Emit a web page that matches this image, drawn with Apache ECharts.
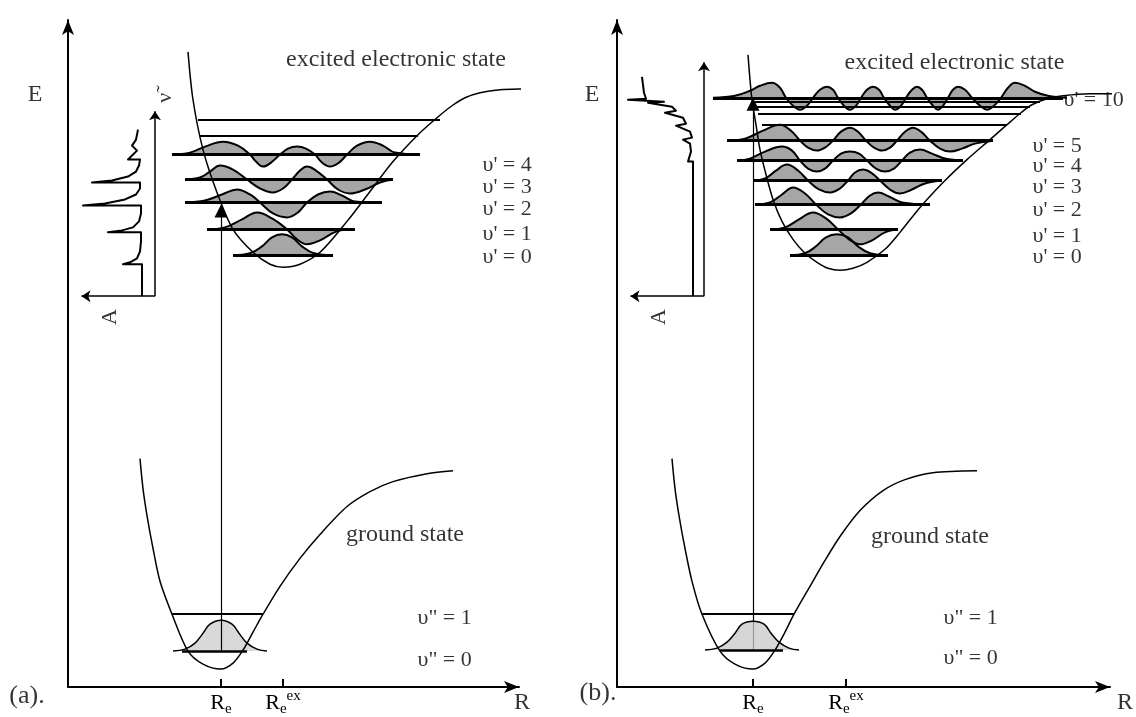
<!DOCTYPE html>
<html>
<head>
<meta charset="utf-8">
<title>Franck-Condon</title>
<script src="https://cdn.jsdelivr.net/npm/echarts@6/dist/echarts.min.js"></script>
<style>
html, body {margin: 0; padding: 0; background: #fff;}
#chart {width: 1136px; height: 717px;}
</style>
</head>
<body>
<div id="chart"></div>
<script>
var FONT = 'Liberation Serif';

/* ---------- panel (a) : R and E in arbitrary units ---------- */
var aRe = 15.3;
var aReEx = 21.5;
var aGroundCurve = [[7.2,22.9],[7.5,19.9],[7.9,17.2],[8.5,13.9],[9.2,10.6],[10.4,7.3],[12.0,3.6],[13.5,2.3],[15.3,1.8],[16.5,2.4],[17.5,3.7],[18.5,5.5],[19.5,7.3],[21.2,10.1],[23.2,12.9],[25.2,15.3],[27.9,18.1],[30.2,19.6],[32.5,20.6],[35.9,21.4],[38.5,21.7]];
var aExcitedCurve = [[12.0,63.7],[12.5,58.9],[13.5,53.9],[14.9,49.6],[16.5,45.9],[18.5,43.6],[20.2,42.4],[21.5,42.1],[23.2,42.4],[25.2,43.6],[27.9,46.7],[30.2,49.7],[32.5,52.7],[35.0,55.4],[36.9,57.1],[38.4,58.3],[39.7,59.1],[41.2,59.6],[43.2,59.9],[45.9,60.0],[48.5,60.1]];
/* [R start, R end, E] */
var aGroundLevels = [[11.4,17.9,3.6],[10.4,19.5,7.3]];
var aExcitedLevels = [[16.5,26.5,43.3],[13.9,28.7,45.9],[11.7,31.4,48.6],[11.7,32.5,50.9],[10.4,35.2,53.4]];
var aUpperLevels = [[13.2,35.0,55.3],[13.0,37.2,56.9]];
var aGroundWave = [[10.5,3.6],[11.7,3.8],[12.7,4.4],[13.5,5.4],[14.2,6.3],[15.3,6.7],[16.4,6.3],[17.1,5.4],[17.9,4.4],[18.9,3.8],[19.9,3.6]];
var aWave0 = [[16.5,43.3],[18.2,43.5],[19.4,44.2],[20.4,45.1],[21.4,45.4],[22.4,45.1],[23.4,44.2],[24.6,43.5],[26.5,43.3]];
var aWave1 = [[13.9,45.9],[15.7,46.1],[17.4,46.9],[18.9,47.6],[20.4,47.0],[21.9,45.9],[22.9,44.9],[23.9,44.4],[25.2,44.8],[26.9,45.7],[28.7,45.9]];
var aWave2 = [[11.7,48.6],[13.7,48.8],[15.4,49.4],[16.9,49.9],[18.2,49.4],[19.2,48.6],[20.5,47.5],[21.9,47.1],[23.0,47.6],[23.9,48.6],[25.0,49.4],[26.2,49.7],[27.4,49.3],[28.7,48.7],[31.4,48.6]];
var aWave3 = [[11.7,50.9],[13.2,51.1],[14.2,51.7],[15.2,52.3],[16.5,51.9],[17.9,50.9],[19.2,50.0],[20.5,49.6],[21.5,50.0],[22.4,50.9],[23.2,51.8],[23.9,52.2],[24.8,51.8],[25.9,50.9],[27.0,49.9],[28.2,49.5],[29.7,49.9],[31.2,50.6],[32.5,50.9]];
var aWave4 = [[10.4,53.4],[12.2,53.6],[13.7,54.2],[15.5,54.7],[17.0,54.3],[18.2,53.4],[18.8,52.7],[19.5,52.2],[20.3,52.6],[21.2,53.4],[22.0,54.0],[22.9,54.2],[23.8,54.0],[24.7,53.4],[25.4,52.6],[26.2,52.2],[27.1,52.6],[27.9,53.4],[28.9,54.3],[30.2,54.7],[31.5,54.3],[32.7,53.6],[35.2,53.4]];
var aSpectrum = [[7.4,39.2],[7.4,42.4],[5.5,42.4],[6.2,42.6],[6.9,43.0],[7.2,43.7],[7.3,44.7],[7.3,45.6],[4.0,45.6],[5.4,45.8],[6.5,46.1],[7.1,46.7],[7.3,47.5],[7.3,48.3],[1.5,48.3],[3.7,48.5],[5.7,48.9],[6.8,49.4],[7.2,50.0],[7.2,50.6],[2.4,50.6],[4.4,50.8],[6.0,51.2],[6.8,51.7],[7.1,52.3],[7.2,52.9],[6.0,52.9],[6.9,53.8],[6.4,54.3],[6.8,54.9],[7.0,55.9]];
var aTransition = [[15.3,3.6],[15.3,48.4]];
var aSpecAxes = [[[8.7,39.2],[8.7,58.2]],[[8.7,39.2],[0.9,39.2]]];
var aTexts = [[32.8,62.9,'excited electronic state'],[33.7,15.3,'ground state'],[-3.3,59.4,'E'],[45.4,-1.6,'R']];
var aPanelTag = [[-4.1,-0.9,'(a).']];
var aVibLabels = [[41.4,43.1,"υ' = 0"],[41.4,45.4,"υ' = 1"],[41.4,47.9,"υ' = 2"],[41.4,50.1,"υ' = 3"],[41.4,52.3,"υ' = 4"]];
var aGroundLabels = [[34.9,6.9,'υ" = 1'],[34.9,2.7,'υ" = 0']];
var aRotTexts = [[4.2,37.1,'A'],[9.7,59.1,'ν\u0303']];

/* ---------- panel (b) ---------- */
var bRe = 13.6;
var bReEx = 22.9;
var bGroundCurve = [[5.5,22.9],[5.8,19.9],[6.2,17.2],[6.8,13.9],[7.5,10.6],[8.5,7.3],[10.3,3.6],[11.8,2.3],[13.6,1.8],[14.8,2.4],[15.8,3.7],[16.8,5.5],[17.7,7.3],[19.3,10.1],[20.8,12.7],[22.3,15.1],[24.3,17.7],[26.6,19.7],[28.8,20.8],[31.6,21.5],[36.0,21.7]];
var bExcitedCurve = [[13.1,63.4],[13.3,60.9],[13.5,58.9],[13.9,56.4],[14.3,53.9],[14.9,51.4],[15.6,48.9],[16.5,46.7],[17.6,44.9],[18.8,43.5],[20.0,42.6],[21.1,42.0],[22.3,41.8],[23.6,42.0],[25.0,42.6],[26.8,43.9],[28.3,45.6],[30.3,48.1],[32.8,50.8],[35.0,52.9],[37.3,54.9],[39.0,56.4],[40.4,57.6],[41.5,58.4],[43.0,59.0],[44.6,59.3],[47.3,59.5],[50.3,59.5]];
var bGroundLevels = [[10.3,16.6,3.7],[8.5,17.7,7.3]];
var bExcitedLevels = [[17.3,27.1,43.3],[15.3,28.1,45.9],[13.8,31.3,48.4],[13.6,32.5,50.8],[12.0,34.6,52.8],[11.0,37.6,54.8],[9.6,44.6,59.1]];
var bUpperLevels = [[14.5,39.0,56.4],[14.1,40.4,57.5],[13.9,41.3,58.2],[13.8,42.3,58.7]];
var bGroundWave = [[8.8,3.7],[10.0,3.9],[11.0,4.5],[11.8,5.4],[12.5,6.3],[13.6,6.6],[14.7,6.3],[15.4,5.4],[16.2,4.5],[17.2,3.9],[18.2,3.7]];
var bWave0 = [[17.3,43.3],[18.8,43.5],[19.9,44.2],[20.9,45.1],[22.0,45.4],[23.1,45.1],[24.1,44.2],[25.3,43.5],[27.1,43.3]];
var bWave1 = [[15.3,45.9],[16.8,46.1],[18.2,46.9],[19.6,47.6],[20.9,47.0],[22.1,45.9],[23.2,44.9],[24.3,44.4],[25.5,44.8],[26.8,45.6],[28.1,45.9]];
var bWave2 = [[13.8,48.4],[15.3,48.6],[16.5,49.4],[17.6,50.1],[18.8,49.5],[19.9,48.4],[21.1,47.4],[22.3,47.1],[23.4,47.5],[24.4,48.4],[25.3,49.3],[26.1,49.6],[27.2,49.2],[28.5,48.6],[31.3,48.4]];
var bWave3 = [[13.6,50.8],[14.8,51.0],[15.9,51.8],[17.0,52.4],[18.1,51.8],[19.1,50.8],[20.2,49.9],[21.3,49.6],[22.3,50.0],[23.1,50.8],[23.8,51.6],[24.6,51.9],[25.4,51.6],[26.3,50.8],[27.3,49.9],[28.3,49.5],[29.5,49.9],[30.8,50.5],[32.5,50.8]];
var bWave4 = [[12.0,52.8],[13.3,53.0],[14.8,53.7],[16.5,54.2],[17.5,53.8],[18.3,52.8],[19.1,52.0],[20.0,51.7],[20.8,52.0],[21.6,52.8],[22.4,53.5],[23.3,53.7],[24.2,53.5],[25.0,52.8],[25.9,52.0],[26.8,51.7],[27.7,52.0],[28.5,52.8],[29.3,53.6],[30.3,53.9],[31.5,53.5],[32.8,53.0],[34.6,52.8]];
var bWave5 = [[11.0,54.8],[12.8,55.0],[14.6,55.8],[16.3,56.4],[17.4,55.8],[18.3,54.8],[19.1,54.1],[20.0,53.8],[20.8,54.1],[21.6,54.8],[22.4,55.7],[23.3,56.1],[24.1,55.7],[24.9,54.8],[25.7,54.1],[26.5,53.8],[27.3,54.1],[28.0,54.8],[28.8,55.7],[29.6,56.1],[30.4,55.7],[31.3,54.8],[32.3,54.0],[33.3,53.7],[34.5,54.0],[35.8,54.5],[37.6,54.8]];
var bWave10 = [[9.6,59.1],[11.8,59.3],[13.3,59.8],[14.3,60.3],[15.5,60.6],[16.3,60.1],[16.9,59.1],[17.6,58.3],[18.3,57.9],[19.0,58.3],[19.6,59.1],[20.3,59.9],[21.0,60.2],[21.6,59.9],[22.1,59.1],[22.7,58.3],[23.3,57.9],[23.9,58.3],[24.4,59.1],[25.0,59.9],[25.6,60.2],[26.2,59.9],[26.7,59.1],[27.3,58.3],[27.8,57.9],[28.4,58.3],[28.9,59.1],[29.5,59.9],[30.0,60.2],[30.5,59.9],[31.0,59.1],[31.6,58.3],[32.1,57.9],[32.6,58.3],[33.1,59.1],[33.6,59.9],[34.1,60.2],[34.8,59.9],[35.5,59.1],[36.3,58.3],[37.0,57.9],[37.7,58.3],[38.4,59.1],[39.1,60.1],[39.8,60.6],[40.8,60.3],[41.8,59.7],[43.1,59.3],[45.0,59.1]];
var bSpectrum = [[7.6,39.2],[7.6,52.7],[7.1,52.7],[7.4,53.7],[7.3,54.5],[6.6,54.9],[7.5,55.1],[7.3,55.7],[5.9,56.3],[6.9,56.5],[6.6,57.1],[4.8,57.6],[5.9,57.8],[5.5,58.2],[3.1,58.6],[4.7,58.7],[1.1,58.9],[2.9,59.0],[2.7,59.6],[2.5,61.2]];
var bTransition = [[13.6,3.7],[13.6,59.1]];
var bSpecAxes = [[[8.7,39.2],[8.7,63.1]],[[8.7,39.2],[0.9,39.2]]];
var bTexts = [[33.75,62.6,'excited electronic state'],[31.3,15.1,'ground state'],[-2.5,59.4,'E'],[50.8,-1.6,'R']];
var bPanelTag = [[-1.9,-0.6,'(b).']];
var bVibLabels = [[41.5,43.1,"υ' = 0"],[41.5,45.2,"υ' = 1"],[41.5,47.8,"υ' = 2"],[41.5,50.1,"υ' = 3"],[41.5,52.2,"υ' = 4"],[41.5,54.2,"υ' = 5"],[44.6,58.9,"υ' = 10"]];
var bGroundLabels = [[32.6,6.9,'υ" = 1'],[32.6,2.9,'υ" = 0']];
var bRotTexts = [[4.2,37.1,'A']];


/*helpers*/
function curveSeries(pts, g, width, z) {
    return {type: 'line', xAxisIndex: g, yAxisIndex: g, data: pts, smooth: 0.4, symbol: 'none',
        clip: false, silent: true, z: z, lineStyle: {color: '#000', width: width}};
}
function potentialSeries(pts, g, z) {
    var s = curveSeries(pts, g, 1.5, z);
    s.smooth = 0.3;
    return s;
}
function polySeries(pts, g, width, z) {
    return {type: 'line', xAxisIndex: g, yAxisIndex: g, data: pts, smooth: false, symbol: 'none',
        clip: false, silent: true, z: z, lineStyle: {color: '#000', width: width, join: 'round'}};
}
function fillSeries(pts, base, g, color, z) {
    return {type: 'line', xAxisIndex: g, yAxisIndex: g, data: pts, smooth: 0.4, symbol: 'none',
        clip: false, silent: true, z: z, lineStyle: {width: 0, opacity: 0},
        areaStyle: {color: color, opacity: 1, origin: base}};
}
function levelSeries(levels, g, width, z) {
    return {type: 'lines', coordinateSystem: 'cartesian2d', xAxisIndex: g, yAxisIndex: g, silent: true, z: z,
        data: levels.map(function (l) { return {coords: [[l[0], l[2]], [l[1], l[2]]]}; }),
        lineStyle: {color: '#000', width: width, opacity: 1}, symbol: 'none'};
}
function arrowSeries(arrows, g, width, head, size, back, z) {
    return {type: 'lines', coordinateSystem: 'cartesian2d', xAxisIndex: g, yAxisIndex: g, silent: true, z: z,
        data: arrows.map(function (a) {
            var dx = a[1][0] - a[0][0], dy = a[1][1] - a[0][1];
            var len = Math.sqrt(dx * dx + dy * dy);
            return {coords: [a[0], [a[1][0] - dx / len * back, a[1][1] - dy / len * back]]};
        }),
        symbol: ['none', head], symbolSize: size,
        lineStyle: {color: '#000', width: width, opacity: 1}};
}
function textSeries(items, g, fontSize, extra) {
    var label = {show: true, formatter: '{b}', color: '#000', fontFamily: FONT, fontSize: fontSize, position: 'inside'};
    for (var k in extra) { label[k] = extra[k]; }
    return {type: 'scatter', xAxisIndex: g, yAxisIndex: g, clip: false, silent: true, z: 10,
        symbolSize: 1, itemStyle: {color: 'rgba(0,0,0,0)'},
        data: items.map(function (t) { return {value: [t[0], t[1]], name: t[2]}; }),
        label: label};
}
function wavePair(list, levels, g) {
    var out = [];
    for (var i = 0; i < list.length; i++) {
        out.push(fillSeries(list[i], levels[i][2], g, '#a6a6a6', 2));
    }
    for (var j = 0; j < list.length; j++) {
        out.push(curveSeries(list[j], g, 2, 3));
    }
    return out;
}
function axisPair(g, max, re, reEx) {
    var x = {
        type: 'value', gridIndex: g, min: 0, max: max,
        splitLine: {show: false},
        axisLine: {show: true, lineStyle: {color: '#000', width: 2}, symbol: ['none', 'arrow'], symbolSize: [9, 15]},
        axisTick: {show: true, inside: true, length: 8, customValues: [re, reEx], lineStyle: {color: '#000', width: 2}},
        axisLabel: {
            show: true, margin: 2, customValues: [re, reEx],
            formatter: function (v) { return Math.abs(v - re) < 0.01 ? '{r|R}{s|e}' : '{r|R}{s|e}{p|ex}'; },
            rich: {
                r: {fontSize: 22, fontFamily: FONT, color: '#000', lineHeight: 28, verticalAlign: 'middle'},
                s: {fontSize: 15, fontFamily: FONT, color: '#000', lineHeight: 15, verticalAlign: 'bottom'},
                p: {fontSize: 15, fontFamily: FONT, color: '#000', lineHeight: 15, verticalAlign: 'top'}
            }
        }
    };
    var y = {
        type: 'value', gridIndex: g, min: 0, max: 66.9,
        splitLine: {show: false}, axisTick: {show: false}, axisLabel: {show: false},
        axisLine: {show: true, lineStyle: {color: '#000', width: 2}, symbol: ['none', 'arrow'], symbolSize: [9, 15]}
    };
    return [x, y];
}


/*build the two panels*/
var axA = axisPair(0, 45.1, aRe, aReEx);
var axB = axisPair(1, 49.3, bRe, bReEx);

var series = [];
/*panel a*/
series = series.concat(wavePair([aWave0, aWave1, aWave2, aWave3, aWave4], aExcitedLevels, 0));
series.push(fillSeries(aGroundWave, aGroundLevels[0][2], 0, '#d9d9d9', 2));
series.push(curveSeries(aGroundWave, 0, 1.5, 3));
series.push(potentialSeries(aGroundCurve, 0, 4));
series.push(potentialSeries(aExcitedCurve, 0, 4));
series.push(levelSeries(aExcitedLevels, 0, 3, 5));
series.push(levelSeries(aUpperLevels, 0, 2, 5));
series.push(levelSeries([aGroundLevels[0]], 0, 2.5, 5));
series.push(levelSeries([aGroundLevels[1]], 0, 2, 5));
series.push(arrowSeries([aTransition], 0, 1.2, 'triangle', 13, 0.65, 6));
series.push(arrowSeries(aSpecAxes, 0, 1.5, 'arrow', 9, 0.45, 6));
series.push(polySeries(aSpectrum, 0, 2, 6));
series.push(textSeries(aTexts, 0, 24, {}));
series.push(textSeries(aPanelTag, 0, 26, {}));
series.push(textSeries(aVibLabels.concat(aGroundLabels), 0, 22, {position: 'right', distance: 0}));
series.push(textSeries(aRotTexts, 0, 22, {rotate: 90}));

/*panel b*/
series = series.concat(wavePair([bWave0, bWave1, bWave2, bWave3, bWave4, bWave5, bWave10], bExcitedLevels, 1));
series.push(arrowSeries([bTransition], 1, 1.2, 'triangle', 13, 0.65, 2));
series.push(fillSeries(bGroundWave, bGroundLevels[0][2], 1, 'rgba(200,200,200,0.75)', 3));
series.push(curveSeries(bGroundWave, 1, 1.5, 3));
series.push(potentialSeries(bGroundCurve, 1, 4));
series.push(potentialSeries(bExcitedCurve, 1, 4));
series.push(levelSeries(bExcitedLevels, 1, 3, 5));
series.push(levelSeries(bUpperLevels, 1, 2, 5));
series.push(levelSeries([bGroundLevels[0]], 1, 2.5, 5));
series.push(levelSeries([bGroundLevels[1]], 1, 2, 5));
series.push(arrowSeries(bSpecAxes, 1, 1.5, 'arrow', 9, 0.45, 6));
series.push(polySeries(bSpectrum, 1, 2, 6));
series.push(textSeries(bTexts, 1, 24, {}));
series.push(textSeries(bPanelTag, 1, 26, {}));
series.push(textSeries(bVibLabels.concat(bGroundLabels), 1, 22, {position: 'right', distance: 0}));
series.push(textSeries(bRotTexts, 1, 22, {rotate: 90}));

var myChart = echarts.init(document.getElementById('chart'));
var option = {
    animation: false,
    backgroundColor: '#fff',
    textStyle: {fontFamily: FONT},
    grid: [
        {left: 68, top: 20, width: 451, height: 669},
        {left: 617, top: 20, width: 493, height: 669}
    ],
    xAxis: [axA[0], axB[0]],
    yAxis: [axA[1], axB[1]],
    series: series
};
myChart.setOption(option);
</script>
</body>
</html>
